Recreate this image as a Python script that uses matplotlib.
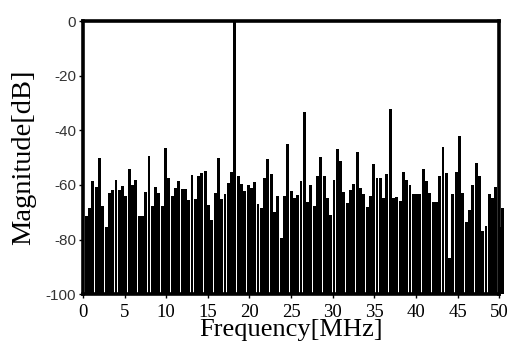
import numpy as np
import matplotlib
matplotlib.use('Agg')
import matplotlib.pyplot as plt

# spectrum magnitude per FFT bin (dB)
magnitude_db = [
    -71.3, -68.4, -58.4, -60.8, -50.3, -67.9, -75.5, -63.0, -61.8, -58.1,
    -62.0, -60.3, -64.0, -54.2, -60.1, -58.1, -71.5, -71.5, -62.5, -49.3,
    -67.9, -60.8, -63.0, -67.9, -46.6, -57.6, -64.0, -61.0, -58.6, -61.5,
    -61.5, -65.7, -56.4, -65.2, -56.9, -55.7, -54.9, -67.2, -72.8, -62.8,
    -50.3, -65.2, -63.5, -59.3, -55.4, 0.0, -56.9, -59.8, -62.3, -60.1,
    -61.0, -58.8, -66.9, -68.4, -57.4, -50.5, -55.9, -70.1, -64.0, -79.6,
    -64.0, -45.2, -62.3, -64.9, -63.7, -58.6, -33.2, -66.2, -60.1, -67.6,
    -56.9, -49.8, -56.9, -64.7, -71.1, -58.1, -46.9, -51.3, -62.5, -66.7,
    -61.8, -59.6, -47.9, -61.3, -63.4, -68.1, -64.0, -52.5, -57.6, -57.6,
    -64.9, -55.9, -32.2, -64.7, -64.5, -65.9, -55.4, -58.1, -60.1, -63.4,
    -63.4, -63.4, -54.2, -58.4, -63.0, -66.4, -66.4, -56.9, -46.2, -55.7,
    -86.9, -63.5, -55.2, -42.0, -63.0, -73.5, -69.3, -60.1, -52.0, -56.9,
    -76.9, -75.2, -63.5, -64.9, -60.8, -75.5, -68.6,
]
floor_db = -100
x_ticks = [0, 5, 10, 15, 20, 25, 30, 35, 40, 45, 50]
y_ticks = [0, -20, -40, -60, -80, -100]

bin_width = 50 / 126
freq = bin_width * np.arange(1, len(magnitude_db) + 1)
heights = np.array(magnitude_db) - floor_db

fig = plt.figure(figsize=(5.12, 3.46), dpi=100)
ax = fig.add_axes([0.162, 0.150, 0.813, 0.789])

ax.bar(freq, heights, bottom=floor_db, width=bin_width * 0.88,
       color='black', linewidth=0, clip_on=False)

ax.set_xlim(0, 50)
ax.set_ylim(-100, 0)
ax.set_xticks(x_ticks)
ax.set_xticklabels([str(t) for t in x_ticks], fontfamily='Liberation Serif', fontsize=13.5)
ax.set_yticks(y_ticks)
ax.set_yticklabels([str(t) for t in y_ticks], fontfamily='Liberation Sans',
                   fontsize=11, color='#333333')
ax.tick_params(axis='x', direction='out', length=3, width=1, pad=4)
ax.tick_params(axis='y', direction='out', length=3, width=1, pad=2)

for side in ['left', 'right', 'top', 'bottom']:
    ax.spines[side].set_linewidth(2.6)
    ax.spines[side].set_color('black')

ax.set_xlabel('Frequency[MHz]', fontfamily='Liberation Serif', fontsize=19, labelpad=-1)
ax.set_ylabel('Magnitude[dB]', fontfamily='Liberation Serif', fontsize=20.5, labelpad=7)

fig.savefig('out.png', dpi=100)
plt.close(fig)
